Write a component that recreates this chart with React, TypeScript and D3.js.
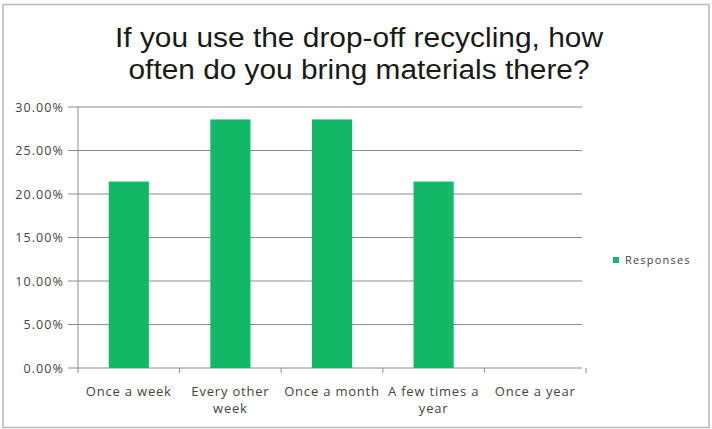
import React from "react";
import * as d3 from "d3";

const categories = ["Once a week", "Every other week", "Once a month", "A few times a year", "Once a year"];
const categoryLines = [["Once a week"], ["Every other", "week"], ["Once a month"], ["A few times a", "year"], ["Once a year"]];
const responses = [0.2143, 0.2857, 0.2857, 0.2143, 0];
const yTicks = [0, 0.05, 0.1, 0.15, 0.2, 0.25, 0.3];
const titleLines = ["If you use the drop-off recycling, how", "often do you bring materials there?"];
const seriesName = "Responses";

export default function App() {
  const W = 712, H = 429;
  const left = 78, right = 586, top = 107, bottom = 368;
  const p = 0.605;
  const x = d3.scaleBand<string>().domain(categories).range([left, right]).paddingInner(p).paddingOuter(p / 2);
  const y = d3.scaleLinear().domain([0, 0.3]).range([bottom, top]);
  const green = "#12b866";
  const labelFont = "'Open Sans', 'DejaVu Sans', sans-serif";
  const step = (right - left) / categories.length;
  const titleLengths = [488, 461];
  return (
    <svg width={W} height={H} style={{ position: "absolute", left: 0, top: 0, background: "#fff" }}>
      <rect x={3} y={4.5} width={706} height={423} fill="#fff" stroke="#b8b8b8" strokeWidth={1.5} />
      {titleLines.map((t, i) => (
        <text key={i} x={359} y={47 + i * 32} textAnchor="middle" fontFamily="'Liberation Sans', Arial, sans-serif" fontSize={27} fill="#1a1a1a" textLength={titleLengths[i]} lengthAdjust="spacingAndGlyphs">{t}</text>
      ))}
      {yTicks.map((t) => (
        <g key={t}>
          <line x1={left - 10} x2={right - 4} y1={y(t)} y2={y(t)} stroke="#8c8c8c" strokeWidth={1} />
          <text x={left - 14} y={y(t) + 4.5} textAnchor="end" fontFamily={labelFont} fontSize={12.5} letterSpacing={1.1} fill="#444">{d3.format(".2%")(t)}</text>
        </g>
      ))}
      <line x1={left} x2={left} y1={top} y2={bottom} stroke="#8c8c8c" />
      {categories.map((c, i) => (
        <rect key={c} x={x(c)} y={y(responses[i])} width={x.bandwidth()} height={bottom - y(responses[i])} fill={green} />
      ))}
      {d3.range(categories.length + 1).map((i) => (
        <line key={i} x1={left + i * step} x2={left + i * step} y1={bottom} y2={bottom + 5} stroke="#8c8c8c" />
      ))}
      {categories.map((c, i) => {
        const cx = (x(c) as number) + x.bandwidth() / 2;
        return (
          <text key={c} x={cx} y={396} textAnchor="middle" fontFamily={labelFont} fontSize={13} letterSpacing={0.8} fill="#444">
            {categoryLines[i].map((l, j) => (
              <tspan key={j} x={cx} dy={j === 0 ? 0 : 17}>{l}</tspan>
            ))}
          </text>
        );
      })}
      <rect x={613} y={257} width={6} height={6} fill={green} />
      <text x={625} y={264} fontFamily={labelFont} fontSize={11} letterSpacing={1.2} fill="#444">{seriesName}</text>
    </svg>
  );
}
